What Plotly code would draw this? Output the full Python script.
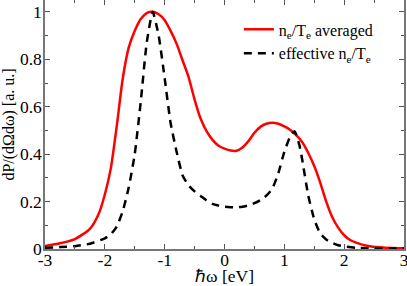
import plotly.graph_objects as go

x_red = [-3.0, -2.75, -2.5, -2.25, -2.1, -2.0, -1.9, -1.8, -1.7, -1.6, -1.5, -1.4, -1.3, -1.2, -1.1, -1.0,
         -0.9, -0.8, -0.7, -0.6, -0.5, -0.4, -0.3, -0.2, -0.1, 0.0, 0.1, 0.2, 0.3, 0.4, 0.5, 0.6,
         0.7, 0.8, 0.9, 1.0, 1.1, 1.2, 1.3, 1.4, 1.5, 1.6, 1.7, 1.8, 1.9, 2.0, 2.1, 2.2, 2.4, 2.6, 2.8, 3.0]
y_red = [0.013, 0.024, 0.042, 0.085, 0.15, 0.23, 0.34, 0.52, 0.72, 0.85, 0.92, 0.97, 0.995, 1.0, 0.99, 0.965,
         0.92, 0.865, 0.795, 0.725, 0.63, 0.55, 0.497, 0.46, 0.435, 0.423, 0.415, 0.414, 0.428, 0.455, 0.49, 0.515,
         0.528, 0.532, 0.528, 0.517, 0.502, 0.48, 0.45, 0.405, 0.35, 0.28, 0.2, 0.135, 0.09, 0.058, 0.038, 0.027, 0.013, 0.007, 0.004, 0.003]

x_blk = [-3.0, -2.75, -2.5, -2.25, -2.0, -1.9, -1.8, -1.7, -1.6, -1.5, -1.4, -1.3, -1.2, -1.1, -1.0,
         -0.9, -0.8, -0.7, -0.6, -0.5, -0.4, -0.3, -0.2, -0.1, 0.0, 0.1, 0.2, 0.3, 0.4, 0.5, 0.6,
         0.7, 0.8, 0.9, 1.0, 1.1, 1.17, 1.25, 1.3, 1.4, 1.5, 1.6, 1.7, 1.8, 1.9, 2.0, 2.2, 2.4, 2.6, 2.8, 3.0]
y_blk = [0.005, 0.008, 0.012, 0.022, 0.045, 0.062, 0.095, 0.16, 0.26, 0.4, 0.62, 0.87, 1.0, 0.9, 0.72,
         0.53, 0.41, 0.31, 0.268, 0.243, 0.224, 0.205, 0.19, 0.183, 0.178, 0.176, 0.176, 0.178, 0.184, 0.193, 0.206,
         0.225, 0.255, 0.32, 0.41, 0.475, 0.497, 0.44, 0.375, 0.225, 0.125, 0.065, 0.04, 0.026, 0.016, 0.011, 0.005, 0.003, 0.002, 0.002, 0.002]

x_ticks = [-3, -2, -1, 0, 1, 2, 3]
y_ticks = [0, 0.2, 0.4, 0.6, 0.8, 1]
y_ticklabels = ["0", "0.2", "0.4", "0.6", "0.8", "1"]

SERIF = "Liberation Serif"


def f(size):
    return dict(family=SERIF, size=size, color="black")


fig = go.Figure()
fig.add_trace(go.Scatter(x=x_red, y=y_red, mode="lines",
                         line=dict(color="#ff0000", width=2.5, shape="spline", smoothing=0.6),
                         name="n<sub>e</sub>/T<sub>e</sub> averaged"))
fig.add_trace(go.Scatter(x=x_blk, y=y_blk, mode="lines",
                         line=dict(color="black", width=2.5, dash="8px,6px", shape="spline", smoothing=0.5),
                         name="effective n<sub>e</sub>/T<sub>e</sub>"))

fig.update_layout(
    width=407, height=286,
    margin=dict(l=45, r=3, t=0, b=37),
    paper_bgcolor="white", plot_bgcolor="white",
    font=f(16),
    showlegend=True,
    legend=dict(x=0.54, y=0.95, xanchor="left", yanchor="top", bgcolor="rgba(0,0,0,0)",
                font=f(16), tracegroupgap=0, itemwidth=30),
    xaxis=dict(range=[-3, 3], tickvals=x_ticks, ticktext=[str(v) for v in x_ticks],
               showgrid=False, zeroline=False, showline=True, linecolor="#777777", linewidth=1.5,
               mirror="allticks", ticks="inside", ticklen=5, tickcolor="#555555", tickwidth=1,
               tickfont=f(17.5), ticklabeloverflow="allow", ticklabelstandoff=-6, automargin=False,
               minor=dict(ticks="inside", ticklen=3, dtick=0.5, tickcolor="#555555"),
               title=dict(text="ℏω [eV]", font=f(17.5), standoff=18)),
    yaxis=dict(range=[0, 1.05], tickvals=y_ticks, ticktext=y_ticklabels,
               showgrid=False, zeroline=False, showline=True, linecolor="#777777", linewidth=1.5,
               mirror="allticks", ticks="inside", ticklen=5, tickcolor="#555555", tickwidth=1,
               tickfont=f(17.5), ticklabelstandoff=-2, automargin=False,
               minor=dict(ticks="inside", ticklen=3, dtick=0.1, tickcolor="#555555"),
               title=dict(text="dP/(dΩdω) [a. u.]", font=f(16), standoff=3)),
)

fig.write_html("out.html", config={"displayModeBar": False},
               post_script="document.body.style.margin='0';")
